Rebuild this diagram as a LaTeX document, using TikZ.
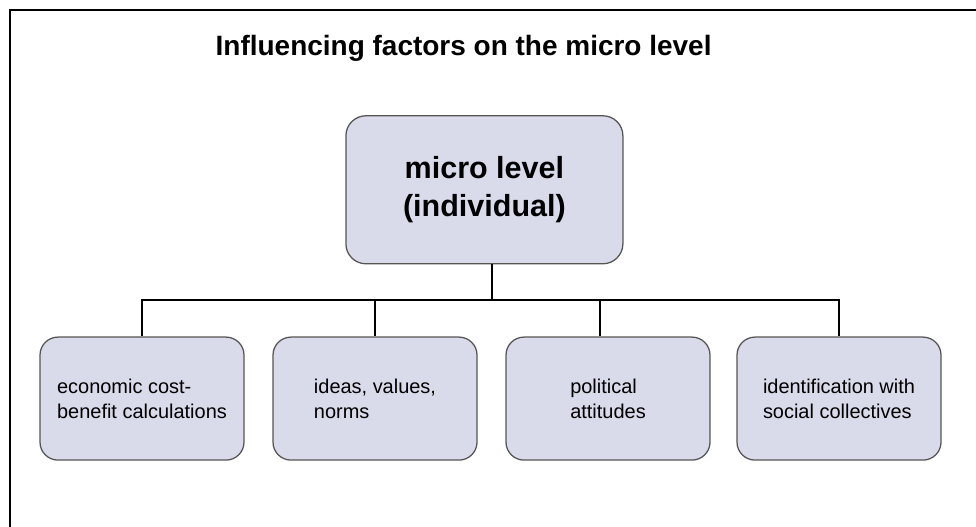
\documentclass[tikz,border=0pt]{standalone}
\usepackage{fontspec}
\setmainfont{Liberation Sans}
\usepackage{xcolor}
\usepackage{tikz}

\definecolor{boxfill}{HTML}{D9DAEA}
\definecolor{boxline}{HTML}{555555}

\begin{document}
\begin{tikzpicture}[
    factor/.style={draw=boxline, fill=boxfill, line width=0.9pt, rounded corners=0.45cm,
        minimum width=5.1cm, minimum height=3.075cm, align=left,
        font=\fontsize{14.2}{17.8}\selectfont},
    link/.style={line width=1.4pt}
]
    \useasboundingbox (0,0) rectangle (24.4,13.175);

    % Frame (top and left edges)
    \draw[line width=1.4pt] (24.8,12.925) -- (0.25,12.925) -- (0.25,-0.4);

    % Title
    \node[anchor=base, font=\bfseries\fontsize{19.9}{24}\selectfont] (title) at (11.59,11.775) {Influencing factors on the micro level};

    % Micro level box
    \node[draw=boxline, fill=boxfill, line width=0.9pt, rounded corners=0.5cm,
        minimum width=6.925cm, minimum height=3.7cm, align=center,
        font=\bfseries\fontsize{21.7}{27}\selectfont] (micro) at (12.11,8.43) {micro level\\(individual)};

    % Factor boxes
    \node[factor] (econ) at (3.55,3.21) {economic cost-\\benefit calculations};
    \node[factor] (ideas) at (9.375,3.21) {ideas, values,\\norms};
    \node[factor] (pol) at (15.2,3.21) {political\\attitudes};
    \node[factor] (ident) at (20.975,3.21) {identification with\\social collectives};

    % Connectors
    \coordinate (bus) at (12.3,5.675);
    \coordinate (poltop) at ([xshift=-0.2cm]pol.north);
    \draw[link] (micro.south -| bus) -- (bus);
    \draw[link] (econ.north) -- (econ.north |- bus) -- (ident.north |- bus) -- (ident.north);
    \foreach \f in {ideas, poltop} {
        \draw[link] (\f |- bus) -- (\f);
    }

\end{tikzpicture}
\end{document}
